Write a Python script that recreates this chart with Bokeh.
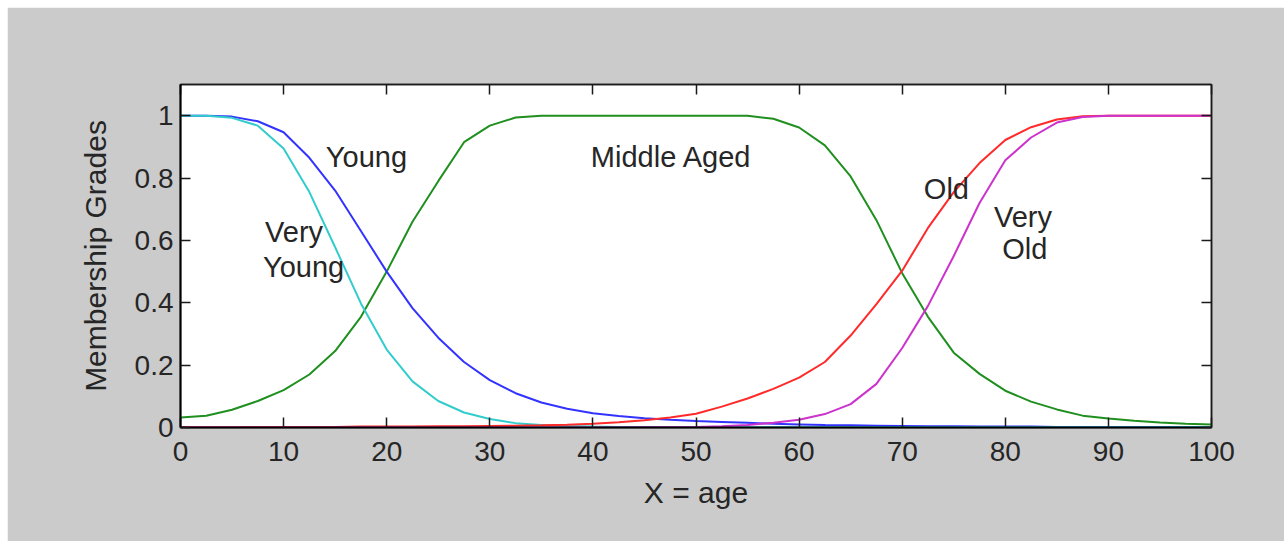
from bokeh.plotting import figure
from bokeh.models import Range1d, LinearAxis, Label, FixedTicker
from bokeh.embed import file_html
from bokeh.resources import INLINE

# ---- data ----
age = [0, 2.5, 5, 7.5, 10, 12.5, 15, 17.5, 20, 22.5, 25, 27.5, 30, 32.5, 35, 37.5,
       40, 42.5, 45, 47.5, 50, 52.5, 55, 57.5, 60, 62.5, 65, 67.5, 70, 72.5, 75, 77.5,
       80, 82.5, 85, 87.5, 90, 92.5, 95, 97.5, 100]

young = [1.0, 1.0, 0.997, 0.982, 0.947, 0.865, 0.76, 0.63, 0.5, 0.383, 0.288, 0.21,
         0.152, 0.11, 0.08, 0.06, 0.046, 0.037, 0.03, 0.025, 0.021, 0.018, 0.015, 0.012,
         0.01, 0.008, 0.007, 0.006, 0.005, 0.004, 0.004, 0.003, 0.003, 0.003, 0.002,
         0.002, 0.002, 0.002, 0.002, 0.001, 0.001]

very_young = [1.0, 1.0, 0.993, 0.968, 0.895, 0.755, 0.578, 0.398, 0.25, 0.148, 0.085,
              0.048, 0.027, 0.014, 0.008, 0.005, 0.003, 0.002, 0.002, 0.001, 0.001,
              0.001, 0.001, 0.001, 0.001, 0.001, 0.001, 0.001, 0.001, 0.001, 0.001,
              0.001, 0.001, 0.001, 0.001, 0.001, 0.001, 0.001, 0.001, 0.001, 0.001]

middle_aged = [0.032, 0.038, 0.057, 0.085, 0.12, 0.17, 0.245, 0.355, 0.5, 0.66, 0.79,
               0.915, 0.968, 0.994, 1.0, 1.0, 1.0, 1.0, 1.0, 1.0, 1.0, 1.0, 1.0, 0.99,
               0.962, 0.905, 0.805, 0.665, 0.495, 0.355, 0.24, 0.172, 0.118, 0.083,
               0.058, 0.038, 0.029, 0.022, 0.016, 0.012, 0.01]

old = [0.001, 0.001, 0.001, 0.002, 0.002, 0.002, 0.002, 0.003, 0.003, 0.003, 0.004,
       0.004, 0.005, 0.006, 0.007, 0.009, 0.012, 0.017, 0.023, 0.032, 0.044, 0.067,
       0.093, 0.124, 0.16, 0.21, 0.295, 0.396, 0.503, 0.64, 0.755, 0.848, 0.922, 0.963,
       0.988, 0.998, 1.0, 1.0, 1.0, 1.0, 1.0]

very_old = [0.0, 0.0, 0.0, 0.0, 0.0, 0.0, 0.0, 0.0, 0.0, 0.0, 0.0, 0.0, 0.0, 0.0, 0.0,
            0.0, 0.0, 0.0, 0.001, 0.001, 0.002, 0.004, 0.008, 0.015, 0.025, 0.043,
            0.075, 0.14, 0.255, 0.39, 0.55, 0.72, 0.857, 0.93, 0.978, 0.996, 1.0, 1.0,
            1.0, 1.0, 1.0]

x_ticks = [0, 10, 20, 30, 40, 50, 60, 70, 80, 90, 100]
y_ticks = [0, 0.2, 0.4, 0.6, 0.8, 1.0]

FONT = "Liberation Sans"
TXT = "#262626"

p = figure(width=1277, height=534, output_backend="svg", toolbar_location=None,
           x_range=Range1d(0, 100), y_range=Range1d(0, 1.1))
p.margin = (7, 0, 0, 7)
p.min_border_left = 173
p.min_border_top = 77
p.min_border_right = 73
p.min_border_bottom = 114
p.border_fill_color = "#cbcbcb"
p.background_fill_color = "white"
p.outline_line_color = "#1a1a1a"
p.outline_line_width = 1.5
p.xgrid.visible = False
p.ygrid.visible = False

for ax, ticks in ((p.xaxis[0], x_ticks), (p.yaxis[0], y_ticks)):
    ax.ticker = FixedTicker(ticks=ticks)
    ax.major_tick_in = 10
    ax.major_tick_out = 0
    ax.minor_tick_in = 0
    ax.minor_tick_out = 0
    ax.axis_line_color = "black"
    ax.axis_line_width = 2
    ax.major_tick_line_color = "#1a1a1a"
    ax.major_tick_line_width = 1.5
    ax.major_label_text_font = FONT
    ax.major_label_text_font_size = "28px"
    ax.major_label_text_color = TXT
    ax.axis_label_text_font = FONT
    ax.axis_label_text_font_size = "30px"
    ax.axis_label_text_font_style = "normal"
    ax.axis_label_text_color = TXT

p.xaxis[0].axis_label = "X = age"
p.xaxis[0].major_label_standoff = 14
p.xaxis[0].axis_label_standoff = 12
p.yaxis[0].axis_label = "Membership Grades"
p.yaxis[0].major_label_standoff = 7
p.yaxis[0].axis_label_standoff = 20
p.yaxis[0].formatter.use_scientific = False

# mirrored tick marks on top and right
for loc, ticks in (("above", x_ticks), ("right", y_ticks)):
    a = LinearAxis(ticker=FixedTicker(ticks=ticks))
    a.major_tick_in = 10
    a.major_tick_out = 0
    a.minor_tick_in = 0
    a.minor_tick_out = 0
    a.major_label_text_font_size = "0px"
    a.major_label_text_alpha = 0
    a.axis_line_color = "#1a1a1a"
    a.axis_line_width = 1.5
    a.major_tick_line_color = "#1a1a1a"
    a.major_tick_line_width = 1.5
    p.add_layout(a, loc)

lw = 2
p.line(age, middle_aged, line_color="#1f8f1f", line_width=lw)
p.line(age, young, line_color="#3333ff", line_width=lw)
p.line(age, very_young, line_color="#33cccc", line_width=lw)
p.line(age, old, line_color="#ff2a2a", line_width=lw)
p.line(age, very_old, line_color="#cc33cc", line_width=lw)

def lab(x, y, t):
    p.add_layout(Label(x=x, y=y, text=t, text_font=FONT, text_font_size="29px",
                       text_color=TXT, text_align="left", text_baseline="alphabetic"))

lab(14.1, 0.869, "Young")
lab(8.2, 0.628, "Very")
lab(8.0, 0.515, "Young")
lab(39.8, 0.869, "Middle Aged")
lab(72.1, 0.765, "Old")
lab(78.9, 0.676, "Very")
lab(79.7, 0.573, "Old")

open("out.html", "w").write(file_html(p, INLINE))
